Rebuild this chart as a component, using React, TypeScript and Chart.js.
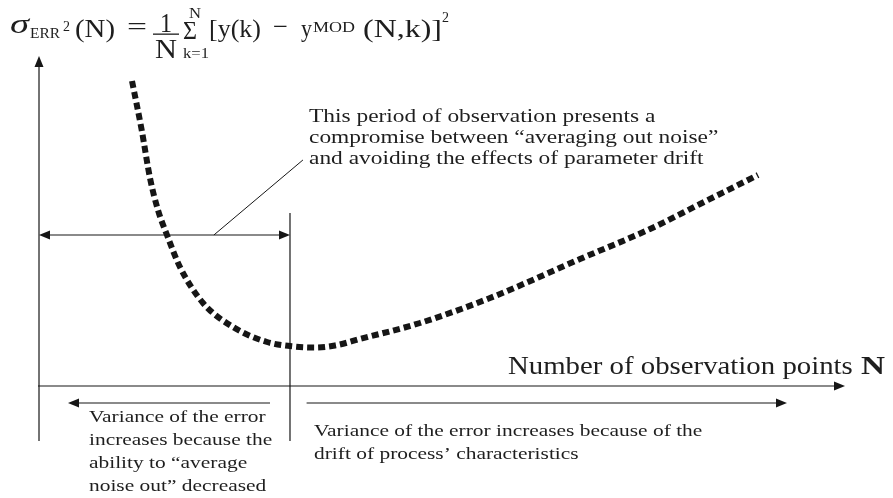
import React, { useEffect, useRef } from "react";
import { Chart, registerables } from "chart.js";

Chart.register(...registerables);

// ---- data (N = number of observation points, value = error variance), arbitrary units
const nValues = [11.54, 12.74, 13.77, 14.76, 15.88, 17.49, 20.35, 24.07, 28.29, 31.6, 34.24, 36.72, 39.82, 47.27, 55.96, 67.12, 75.81, 82.01, 89.21];
const errValues = [92.42, 77.58, 63.03, 53.33, 45.76, 36.06, 25.15, 17.88, 13.33, 11.97, 11.67, 12.27, 14.24, 19.09, 26.67, 38.48, 47.58, 55.15, 63.94];

// ---- diagram structure, in the same data units
const X_MIN = -4.839;
const X_MAX = 105.955;
const Y_MIN = -33.94;
const Y_MAX = 116.97;
const AXIS_N_END = 100;
const AXIS_Y_TOP = 100;
const AXIS_Y_BOTTOM = -16.7;
const DIVIDER_N = 31.14;
const DIVIDER_TOP = 52.4;
const PERIOD_ARROW_Y = 45.76;
const LEADER_FROM = [21.7, 45.76];
const LEADER_TO = [32.75, 68.5];
const BOTTOM_ARROWS_Y = -5.15;
const LEFT_ARROW = [28.66, 3.6];
const RIGHT_ARROW = [33.2, 92.8];

const INK = "#161616";
const TEXT = "#1e1e1e";
const SERIF = '"Liberation Serif", "Times New Roman", serif';

function arrowHead(ctx: CanvasRenderingContext2D, x1: number, y1: number, x2: number, y2: number, len = 11, half = 4.5) {
  const a = Math.atan2(y2 - y1, x2 - x1);
  ctx.beginPath();
  ctx.moveTo(x2, y2);
  ctx.lineTo(x2 - len * Math.cos(a) + half * Math.sin(a), y2 - len * Math.sin(a) - half * Math.cos(a));
  ctx.lineTo(x2 - len * Math.cos(a) - half * Math.sin(a), y2 - len * Math.sin(a) + half * Math.cos(a));
  ctx.closePath();
  ctx.fill();
}

function seg(ctx: CanvasRenderingContext2D, x1: number, y1: number, x2: number, y2: number) {
  ctx.beginPath();
  ctx.moveTo(x1, y1);
  ctx.lineTo(x2, y2);
  ctx.stroke();
}

function arrow(ctx: CanvasRenderingContext2D, x1: number, y1: number, x2: number, y2: number) {
  const a = Math.atan2(y2 - y1, x2 - x1);
  seg(ctx, x1, y1, x2 - 6 * Math.cos(a), y2 - 6 * Math.sin(a));
  arrowHead(ctx, x1, y1, x2, y2);
}

function txt(ctx: CanvasRenderingContext2D, s: string, x: number, y: number, size: number, width?: number, style = "") {
  ctx.font = `${style} ${size}px ${SERIF}`.trim();
  const m = ctx.measureText(s).width;
  ctx.save();
  ctx.translate(x, y);
  if (width) ctx.scale(width / m, 1);
  ctx.fillText(s, 0, 0);
  ctx.restore();
}

function txtScaled(ctx: CanvasRenderingContext2D, s: string, x: number, y: number, size: number, sx: number) {
  ctx.font = `${size}px ${SERIF}`;
  ctx.save();
  ctx.translate(x, y);
  ctx.scale(sx, 1);
  ctx.fillText(s, 0, 0);
  ctx.restore();
}

const diagramPlugin = {
  id: "diagram",
  afterDatasetsDraw(chart: any) {
    const { ctx } = chart;
    const xs = chart.scales.x;
    const ys = chart.scales.y;
    const px = (v: number) => xs.getPixelForValue(v);
    const py = (v: number) => ys.getPixelForValue(v);
    ctx.save();
    ctx.strokeStyle = INK;
    ctx.fillStyle = INK;
    ctx.lineWidth = 1.2;

    // axes
    arrow(ctx, px(0), py(AXIS_Y_BOTTOM), px(0), py(AXIS_Y_TOP));
    arrow(ctx, px(0) - 1, py(0), px(AXIS_N_END), py(0));
    // divider
    seg(ctx, px(DIVIDER_N), py(DIVIDER_TOP), px(DIVIDER_N), py(AXIS_Y_BOTTOM));
    // period double arrow
    const ay = py(PERIOD_ARROW_Y);
    seg(ctx, px(0) + 6, ay, px(DIVIDER_N) - 6, ay);
    arrowHead(ctx, px(DIVIDER_N), ay, px(0), ay);
    arrowHead(ctx, px(0), ay, px(DIVIDER_N), ay);
    // leader line
    ctx.lineWidth = 1;
    seg(ctx, px(LEADER_FROM[0]), py(LEADER_FROM[1]), px(LEADER_TO[0]), py(LEADER_TO[1]));
    ctx.lineWidth = 1.2;
    // bottom arrows
    const by = py(BOTTOM_ARROWS_Y);
    arrow(ctx, px(LEFT_ARROW[0]), by, px(LEFT_ARROW[1]), by);
    arrow(ctx, px(RIGHT_ARROW[0]), by, px(RIGHT_ARROW[1]), by);

    // ---- formula
    ctx.fillStyle = TEXT;
    txt(ctx, "\u03C3", 10, 33, 28, 19, "italic");
    txt(ctx, "ERR", 30, 38, 15, 30);
    txt(ctx, "2", 63, 31, 15, 7);
    txt(ctx, "(N)", 75, 37, 26, 40);
    txt(ctx, "=", 127, 35, 26, 20);
    txt(ctx, "1", 160, 32, 27, 12);
    ctx.fillRect(153, 33.5, 26, 1.3);
    txt(ctx, "N", 155, 58, 27, 22);
    txt(ctx, "N", 189, 18, 15, 12);
    txt(ctx, "\u03A3", 183, 39, 26, 14);
    txt(ctx, "k=1", 183, 58, 15, 26);
    txt(ctx, "[y(k)", 209, 37, 26, 52);
    txt(ctx, "\u2212", 273, 35, 26, 15);
    txt(ctx, "y", 301, 37, 26, 11);
    txt(ctx, "MOD", 313, 32, 15, 42);
    txt(ctx, "(N,k)]", 363, 37, 26, 79);
    txt(ctx, "2", 442, 22, 15, 7);

    // ---- annotation text
    const topSize = 18;
    const topScale = 1.3;
    const topLines = [
      "This period of observation presents a",
      "compromise between \u201Caveraging out noise\u201D",
      "and avoiding the effects of parameter drift",
    ];
    topLines.forEach((l, i) => txtScaled(ctx, l, 309, 122 + i * 21, topSize, topScale));

    txt(ctx, "Number of observation points ", 508, 374, 25, 352);
    txt(ctx, "N", 861, 374, 25, 24, "bold");

    const botSize = 17;
    const botScale = 1.26;
    const leftLines = [
      "Variance of the error",
      "increases because the",
      "ability to \u201Caverage",
      "noise out\u201D decreased",
    ];
    leftLines.forEach((l, i) => txtScaled(ctx, l, 89, 422 + i * 23, botSize, botScale));
    const rightLines = [
      "Variance of the error increases because of the",
      "drift of process\u2019 characteristics",
    ];
    rightLines.forEach((l, i) => txtScaled(ctx, l, 314, 436 + i * 23, botSize, botScale));

    ctx.restore();
  },
};

export default function App() {
  const ref = useRef<HTMLCanvasElement | null>(null);
  useEffect(() => {
    if (!ref.current) return;
    const chart = new Chart(ref.current, {
      type: "line",
      data: {
        datasets: [
          {
            data: nValues.map((n, i) => ({ x: n, y: errValues[i] })),
            borderColor: INK,
            borderWidth: 6,
            borderDash: [7, 4],
            borderCapStyle: "butt",
            pointRadius: 0,
            fill: false,
            cubicInterpolationMode: "monotone",
          },
        ],
      },
      options: {
        responsive: false,
        animation: false,
        layout: { padding: 0 },
        plugins: { legend: { display: false }, tooltip: { enabled: false }, title: { display: false } },
        scales: {
          x: { type: "linear", min: X_MIN, max: X_MAX, display: false },
          y: { type: "linear", min: Y_MIN, max: Y_MAX, display: false },
        },
      },
      plugins: [diagramPlugin],
    } as any);
    return () => chart.destroy();
  }, []);
  return (
    <div style={{ position: "absolute", left: 0, top: 0, width: 893, height: 498, background: "#fff" }}>
      <canvas ref={ref} width={893} height={498} />
    </div>
  );
}
